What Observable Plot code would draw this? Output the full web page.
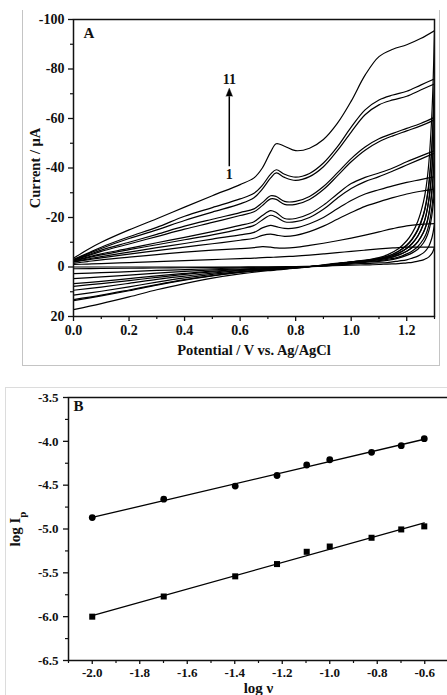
<!DOCTYPE html>
<html><head><meta charset="utf-8">
<script src="https://cdn.jsdelivr.net/npm/d3@7"></script>
<script src="https://cdn.jsdelivr.net/npm/@observablehq/plot@0.6"></script>
<style>
html,body{margin:0;padding:0;background:#fff;}
body{width:447px;height:695px;position:relative;overflow:hidden;}
#boxA{position:absolute;left:22px;top:10px;width:416px;height:355px;border:1px solid #c4c4c4;border-top:none;z-index:2;pointer-events:none;}
#boxB{position:absolute;left:5px;top:387px;width:460px;height:330px;border-top:1px solid #dcdcdc;border-left:1px solid #dcdcdc;z-index:2;pointer-events:none;}
#chartA{position:absolute;left:0;top:0;}
#chartB{position:absolute;left:0;top:370px;}
</style></head><body>
<div id="boxA"></div><div id="boxB"></div>
<div id="chartA"></div><div id="chartB"></div>
<script>
// ---------- Panel A : cyclic voltammograms (11 scans) ----------
const fwdV = [0, 0.05, 0.1, 0.2, 0.3, 0.4, 0.5, 0.6, 0.65, 0.68, 0.71, 0.73, 0.76, 0.8, 0.85, 0.9, 0.95, 1.0, 1.05, 1.1, 1.15, 1.2, 1.25, 1.3];
const fwd1  = [-1, -1.2, -1.4, -1.8, -2.2, -2.6, -3, -3.4, -3.6, -3.8, -3.9, -4, -4.2, -4.4, -4.8, -5.3, -5.8, -6.3, -6.8, -7.3, -7.7, -8, -8, -8];
const fwd2  = [-1.5, -2.2, -2.9, -4, -5, -6, -6.8, -7.4, -7.8, -8.2, -8, -7.7, -7.6, -7.9, -8.7, -9.6, -10.6, -11.7, -12.9, -14.2, -15.5, -16.6, -17.2, -17.5];
const fwd3  = [-2, -2.9, -3.7, -5.2, -6.6, -8, -9.4, -10.8, -11.6, -12.8, -13.3, -12.9, -12.4, -12.8, -14.3, -16.5, -19.3, -22, -24.5, -26.3, -28, -29.5, -30.6, -31.5];
const fwd4  = [-2.2, -3.2, -4.2, -6, -7.8, -9.5, -11.3, -13, -14, -15.8, -16.8, -16.3, -15.6, -15.8, -17.5, -20, -23.5, -26.9, -29.5, -31.2, -32.8, -34.2, -35.3, -36.5];
const fwd5  = [-2.5, -3.7, -4.9, -7, -9, -11, -13, -15.3, -16.8, -19, -20.9, -20.2, -18.3, -18.3, -20, -23.3, -27.8, -31.7, -34.5, -36.5, -38.8, -41.2, -43.6, -46];
const fwd6  = [-2.5, -4, -5.3, -7.5, -9.8, -12, -14.3, -16.8, -18.3, -20.8, -22.8, -22, -19.6, -19.6, -21.5, -25, -29.5, -33.7, -36.2, -38, -40, -42.5, -44.8, -47];
const fwd7  = [-2.8, -4.5, -6.3, -9.3, -12.3, -15.3, -18, -20.8, -22.3, -24.8, -27.5, -27.3, -25.3, -25.3, -27.3, -31.3, -36.8, -42.5, -47.2, -50.6, -53, -55, -57, -59.5];
const fwd8  = [-2.8, -4.8, -6.8, -10, -13.2, -16.5, -19.3, -22, -23.5, -26, -28.8, -28.5, -26.5, -26.5, -28.5, -32.5, -38, -43.8, -48.5, -51.8, -54, -56, -58, -60.5];
const fwd9  = [-3, -5.2, -7.5, -11.5, -15, -18.8, -22.2, -25.5, -28, -31.5, -36, -38, -36.2, -35, -36.5, -40.5, -47, -54.5, -61.5, -65.5, -67.5, -69, -71.5, -74];
const fwd10 = [-3, -5.5, -8, -12.2, -16, -20.5, -24, -27.5, -29.8, -33, -37.5, -39.3, -37.5, -36.3, -37.8, -42, -48.5, -56.5, -63.5, -67.5, -69.5, -71, -73.5, -76];
const fwd11 = [-3.5, -7, -10, -15, -19.5, -24.2, -28.8, -33.3, -36, -40, -46.5, -49.8, -48.8, -47, -48, -51.5, -58, -67, -77.5, -85, -88, -89.8, -92.3, -95.5];

const revV = [1.3, 1.295, 1.29, 1.28, 1.27, 1.26, 1.24, 1.22, 1.2, 1.17, 1.13, 1.1, 1.05, 1.0, 0.9, 0.8, 0.7, 0.6, 0.5, 0.4, 0.3, 0.2, 0.1, 0];
const rev1  = [-8, -6.5, -5.4, -4.1, -3.4, -2.9, -2.35, -1.9, -1.7, -1.35, -1.2, -1.0, -0.85, -0.7, -0.4, -0.2, -0.1, 0, 0, 0, 0, 0, 0, 0];
const rev2  = [-17.5, -14, -11.5, -8.5, -6.8, -5.7, -4.4, -3.6, -2.9, -2.4, -1.8, -1.65, -1.4, -1.15, -0.4, 0, 0.1, 0.1, 0.2, 0.3, 0.4, 0.5, 0.6, 0.7];
const rev3  = [-31.5, -25, -20.4, -14.8, -11.7, -9.7, -7.2, -5.7, -4.7, -3.6, -2.7, -2.3, -1.9, -1.5, -0.4, 0.1, 0.2, 0.4, 0.7, 1.1, 1.4, 1.9, 2.3, 2.7];
const rev4  = [-36.5, -28.9, -23.7, -17.1, -13.4, -11.2, -8.3, -6.5, -5.3, -4.0, -3.1, -2.6, -2.1, -1.7, -0.5, 0.1, 0.4, 0.8, 1.2, 1.8, 2.5, 3.3, 4.0, 4.7];
const rev5  = [-46, -36.4, -29.7, -21.4, -16.7, -13.8, -10.2, -7.9, -6.4, -4.8, -3.5, -3.0, -2.4, -1.9, -0.6, 0.2, 0.6, 1.1, 1.7, 2.6, 3.6, 4.7, 5.8, 6.7];
const rev6  = [-47, -37.1, -30.3, -21.8, -17, -14, -10.3, -8, -6.4, -4.9, -3.6, -3.0, -2.4, -1.9, -0.6, 0.2, 0.7, 1.3, 2.0, 3.0, 4.2, 5.5, 6.7, 7.8];
const rev7  = [-59.5, -46.8, -38.0, -27.1, -21.0, -17.2, -12.4, -9.5, -7.5, -5.5, -3.9, -3.2, -2.5, -2.0, -0.6, 0.3, 0.8, 1.5, 2.5, 3.7, 5.0, 6.6, 8.1, 9.4];
const rev8  = [-60.5, -47.6, -38.7, -27.6, -21.3, -17.4, -12.6, -9.6, -7.6, -5.6, -3.9, -3.2, -2.5, -2.0, -0.7, 0.3, 1.0, 1.9, 3.0, 4.4, 6.1, 8.0, 9.8, 11.4];
const rev9  = [-74, -58.1, -47, -33.3, -25.6, -20.8, -14.9, -11.2, -8.7, -6.3, -4.3, -3.4, -2.6, -2.0, -0.7, 0.4, 1.2, 2.1, 3.5, 5.1, 7.1, 9.3, 11.4, 13.2];
const rev10 = [-76, -59.6, -48.3, -34.2, -26.2, -21.3, -15.2, -11.5, -8.9, -6.4, -4.3, -3.5, -2.6, -2.0, -0.7, 0.4, 1.2, 2.2, 3.6, 5.3, 7.3, 9.6, 11.7, 13.6];
const rev11 = [-95.5, -74.8, -60.4, -42.5, -32.4, -26.2, -18.5, -13.8, -10.6, -7.4, -4.9, -3.8, -2.75, -2.1, -0.9, 0.5, 1.5, 2.8, 4.5, 6.7, 9.2, 12.1, 14.8, 17.2];

const aXMajor = [0, 0.2, 0.4, 0.6, 0.8, 1.0, 1.2];
const aXMinor = [0.1, 0.3, 0.5, 0.7, 0.9, 1.1, 1.3];
const aYMajor = [-100, -80, -60, -40, -20, 0, 20];
const aYMinor = [-90, -70, -50, -30, -10, 10];

// arrow annotation (data units): scan order 1 -> 11
const arrowLine = [{x: 0.561, y1: -40.7, y2: -69.0}];
const arrowLabels = [{x: 0.561, y: -75.8, t: "11"}, {x: 0.561, y: -37.2, t: "1"}];

// ---------- Panel B : log Ip vs log v ----------
const logScanRate = [-2.0, -1.699, -1.398, -1.222, -1.097, -1.0, -0.824, -0.699, -0.602];
const logIpCircle = [-4.87, -4.66, -4.51, -4.39, -4.27, -4.21, -4.125, -4.05, -3.97];
const logIpSquare = [-6.0, -5.77, -5.54, -5.40, -5.26, -5.20, -5.10, -5.005, -4.97];
const bXMajor = [-2.0, -1.8, -1.6, -1.4, -1.2, -1.0, -0.8, -0.6];
const bXMinor = [-2.1, -1.9, -1.7, -1.5, -1.3, -1.1, -0.9, -0.7, -0.5];
const bYMajor = [-3.5, -4.0, -4.5, -5.0, -5.5, -6.0, -6.5];
const bYMinor = [-3.75, -4.25, -4.75, -5.25, -5.75, -6.25];

// ---------- build tables ----------
const fwdAll = [fwd1, fwd2, fwd3, fwd4, fwd5, fwd6, fwd7, fwd8, fwd9, fwd10, fwd11];
const revAll = [rev1, rev2, rev3, rev4, rev5, rev6, rev7, rev8, rev9, rev10, rev11];
const cvRows = [];
fwdAll.forEach((arr, k) => arr.forEach((i, j) => cvRows.push({v: fwdV[j], i, key: "f" + k})));
revAll.forEach((arr, k) => arr.forEach((i, j) => cvRows.push({v: revV[j], i, key: "r" + k})));

const circ = logScanRate.map((x, j) => ({x, y: logIpCircle[j]}));
const sqr = logScanRate.map((x, j) => ({x, y: logIpSquare[j]}));

const serif = "'Liberation Serif', 'Times New Roman', Times, serif";
const ink = "#111";

const chartA = Plot.plot({
  width: 447, height: 366,
  marginLeft: 73, marginRight: 13, marginTop: 19, marginBottom: 50,
  style: {fontFamily: serif, fontWeight: "bold", fontSize: "14px", background: "transparent", color: ink},
  x: {domain: [0, 1.3], label: null},
  y: {domain: [20, -100], label: null},
  marks: [
    Plot.line(cvRows, {x: "v", y: "i", z: "key", curve: "catmull-rom", stroke: "#000", strokeWidth: 1.2, clip: true}),
    Plot.frame({stroke: ink, strokeWidth: 1.5}),
    Plot.axisX({ticks: aXMajor, tickSize: 5, tickPadding: 4, tickFormat: d => d.toFixed(1), label: null, strokeWidth: 1.3}),
    Plot.axisX({ticks: aXMinor, tickSize: 3, tickFormat: () => "", label: null, strokeWidth: 1.2}),
    Plot.axisY({ticks: aYMajor, tickSize: 5, tickPadding: 4, tickFormat: d => String(d), label: null, strokeWidth: 1.3}),
    Plot.axisY({ticks: aYMinor, tickSize: 3, tickFormat: () => "", label: null, strokeWidth: 1.2}),
    Plot.link(arrowLine, {x1: "x", x2: "x", y1: "y1", y2: "y2", stroke: "#000", strokeWidth: 1.5}),
    Plot.vector(arrowLine, {x: "x", y: "y2", length: 8, r: 3.2, shape: "spike", anchor: "start", rotate: 0, fill: "#000", stroke: "#000", strokeWidth: 0.5}),
    Plot.text(arrowLabels, {x: "x", y: "y", text: "t", fontSize: 14}),
    Plot.text(["A"], {frameAnchor: "top-left", dx: 10, dy: 8, fontSize: 15}),
    Plot.text(["Current / μA"], {frameAnchor: "left", rotate: -90, dx: -38, textAnchor: "middle", fontSize: 14.5}),
    Plot.text(["Potential / V vs. Ag/AgCl"], {frameAnchor: "bottom", dy: 38, fontSize: 14.5})
  ]
});
document.getElementById("chartA").appendChild(chartA);

const chartB = Plot.plot({
  width: 447, height: 325,
  marginLeft: 68, marginRight: -1, marginTop: 27, marginBottom: 35,
  style: {fontFamily: serif, fontWeight: "bold", fontSize: "13px", background: "transparent", color: ink},
  x: {domain: [-2.1, -0.5], label: null},
  y: {domain: [-6.5, -3.5], label: null},
  marks: [
    Plot.frame({stroke: ink, strokeWidth: 1.5}),
    Plot.axisX({ticks: bXMajor, tickSize: 4, tickPadding: 3, tickFormat: d => d.toFixed(1), label: null, strokeWidth: 1.3}),
    Plot.axisX({ticks: bXMinor, tickSize: 3, tickFormat: () => "", label: null, strokeWidth: 1.2}),
    Plot.axisY({ticks: bYMajor, tickSize: 5, tickPadding: 5, tickFormat: d => d.toFixed(1), label: null, strokeWidth: 1.3}),
    Plot.axisY({ticks: bYMinor, tickSize: 3, tickFormat: () => "", label: null, strokeWidth: 1.2}),
    Plot.linearRegressionY(circ, {x: "x", y: "y", ci: 0, stroke: "#000", strokeWidth: 1.3}),
    Plot.linearRegressionY(sqr, {x: "x", y: "y", ci: 0, stroke: "#000", strokeWidth: 1.3}),
    Plot.dot(circ, {x: "x", y: "y", r: 3.4, fill: "#000", symbol: "circle"}),
    Plot.dot(sqr, {x: "x", y: "y", r: 3.4, fill: "#000", symbol: "square"}),
    Plot.text(["B"], {frameAnchor: "top-left", dx: 5, dy: 3, fontSize: 15}),
    Plot.text(["log I"], {frameAnchor: "left", rotate: -90, dx: -53, textAnchor: "middle", fontSize: 15, className: "ylabB"}),
    Plot.text(["log ν"], {frameAnchor: "bottom", dy: 32, fontSize: 15})
  ]
});
document.getElementById("chartB").appendChild(chartB);
// subscript p on "log Ip"
d3.select(chartB).selectAll("g.ylabB text").append("tspan").attr("baseline-shift", "sub").attr("font-size", 11).text("p");
</script></body></html>
